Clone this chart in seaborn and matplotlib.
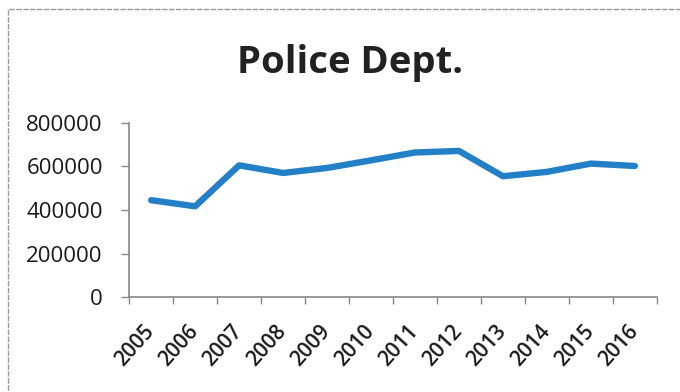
import matplotlib
matplotlib.use("Agg")
import matplotlib.pyplot as plt
import seaborn as sns
import pandas as pd
from matplotlib.patches import Rectangle

# Annual police department figures
years = ["2005", "2006", "2007", "2008", "2009", "2010",
         "2011", "2012", "2013", "2014", "2015", "2016"]
values = [445000, 417000, 605000, 570000, 593000, 628000,
          664000, 671000, 555000, 575000, 613000, 602000]
y_ticks = [0, 200000, 400000, 600000, 800000]

sns.set_theme(style="white")
plt.rcParams["font.family"] = ["Open Sans", "DejaVu Sans"]

df = pd.DataFrame({"year": years, "value": values})

fig = plt.figure(figsize=(6.8, 3.92), dpi=100)
ax = fig.add_axes([0.19, 0.242, 0.776, 0.4446])

sns.lineplot(data=df, x="year", y="value", ax=ax, color="#2480c6",
             linewidth=4.6, sort=False)

ax.set_ylim(0, 800000)
ax.set_yticks(y_ticks)
ax.set_yticklabels([str(v) for v in y_ticks], fontsize=16, color="#1a1a1a")

n = len(years)
ax.set_xlim(-0.5, n - 0.5)
ax.set_xticks(range(n))
ax.set_xticklabels(years, rotation=48, ha="right", va="center",
                   rotation_mode="anchor", fontsize=15, fontweight="semibold",
                   color="#1a1a1a")
ax.tick_params(axis="x", length=0, pad=22)
ax.set_xticks([i - 0.5 for i in range(n + 1)], minor=True)
ax.tick_params(axis="x", which="minor", length=5, width=1, color="#888888",
               direction="out", bottom=True)
ax.tick_params(axis="y", length=6, width=1, color="#888888", direction="out",
               left=True, pad=13)

ax.set_xlabel("")
ax.set_ylabel("")
for side in ("top", "right"):
    ax.spines[side].set_visible(False)
for side in ("left", "bottom"):
    ax.spines[side].set_color("#888888")
    ax.spines[side].set_linewidth(1.2)

fig.text(0.515, 0.814, "Police Dept.", ha="center", va="baseline",
         fontsize=27.5, fontweight="bold", color="#222222")

# thin frame around the chart area
fig.patches.append(Rectangle((0.012, -0.1), 1.2, 1.078, transform=fig.transFigure,
                             fill=False, edgecolor="#9a9a9a", linewidth=1.0,
                             linestyle=(0, (4, 1))))

fig.savefig("out.png", dpi=100, facecolor="white")
